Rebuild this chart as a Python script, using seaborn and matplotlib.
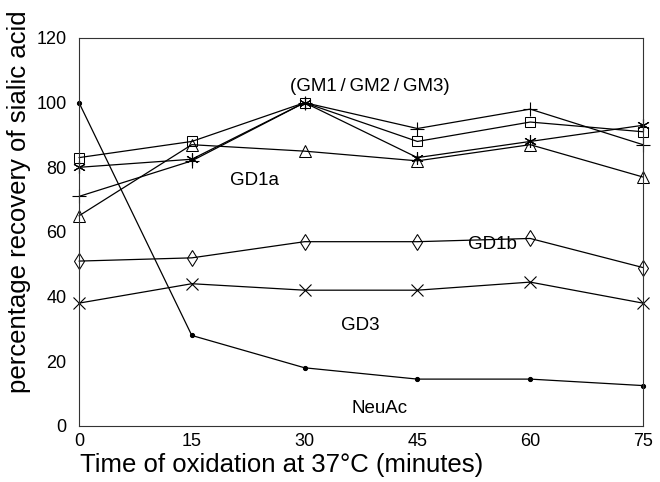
import matplotlib
matplotlib.use("Agg")
import matplotlib.pyplot as plt
import pandas as pd
import seaborn as sns

# Data
minutes = [0, 15, 30, 45, 60, 75]
gm_square = [83, 88, 100, 88, 94, 91]
gm_plus = [71, 82, 100, 92, 98, 87]
gm_star = [80, 82.5, 100, 83, 88, 93]
gd1a = [65, 87, 85, 82, 87, 77]
gd1b = [51, 52, 57, 57, 58, 49]
gd3 = [38, 44, 42, 42, 44.5, 38]
neuac = [100, 28, 18, 14.5, 14.5, 12.5]

series_names = ["GM a", "GM b", "GM c", "GD1a", "GD1b", "GD3", "NeuAc"]
series_values = [gm_square, gm_plus, gm_star, gd1a, gd1b, gd3, neuac]

# label text, x, y (data coords)
labels = ["(GM1\u2009/\u2009GM2\u2009/\u2009GM3)", "GD1a", "GD1b", "GD3", "NeuAc"]
label_x = [38.7, 23.4, 55, 37.4, 40]
label_y = [105, 76, 56, 31, 5.5]

sns.set_theme(style="white")
plt.rcParams["font.family"] = ["Liberation Sans", "DejaVu Sans"]

df = pd.DataFrame(
    [(s, m, v) for s, vals in zip(series_names, series_values) for m, v in zip(minutes, vals)],
    columns=["series", "minutes", "recovery"],
)

marker_style = {
    "GM a": dict(marker="s", markersize=7, markerfacecolor="none"),
    "GM b": dict(marker="+", markersize=10, markeredgewidth=0.8),
    "GM c": dict(marker=(6, 2, 0), markersize=9, markeredgewidth=0.8),
    "GD1a": dict(marker="^", markersize=8, markerfacecolor="none"),
    "GD1b": dict(marker="d", markersize=8.5, markerfacecolor="none"),
    "GD3": dict(marker="x", markersize=8, markeredgewidth=0.8),
    "NeuAc": dict(marker="o", markersize=3),
}

fig = plt.figure(figsize=(6.6, 4.82), dpi=100)
ax = fig.add_axes([0.1197, 0.1162, 0.8545, 0.805])

for name in series_names:
    sub = df[df["series"] == name]
    sns.lineplot(
        data=sub, x="minutes", y="recovery", ax=ax, color="black",
        linewidth=0.9, markeredgecolor="black", legend=False, clip_on=False,
        **marker_style[name],
    )

for txt, x, y in zip(labels, label_x, label_y):
    ax.text(x, y, txt, ha="center", va="center", fontsize=13.5, color="black")

ax.set_xlim(0, 75)
ax.set_ylim(0, 120)
ax.set_xticks(minutes)
ax.set_yticks(range(0, 121, 20))
ax.tick_params(axis="both", length=0, labelsize=13, colors="black")
ax.tick_params(axis="y", pad=9)
ax.tick_params(axis="x", pad=5)
ax.set_xlabel("Time of oxidation at 37°C (minutes)", fontsize=18.5, color="black")
ax.set_ylabel("percentage recovery of sialic acid", fontsize=18.5, color="black")
ax.xaxis.set_label_coords(0.36, -0.069)
ax.yaxis.set_label_coords(-0.085, 0.577)
for sp in ax.spines.values():
    sp.set_color("#333333")
    sp.set_linewidth(0.8)

fig.savefig("out.png", dpi=100)
